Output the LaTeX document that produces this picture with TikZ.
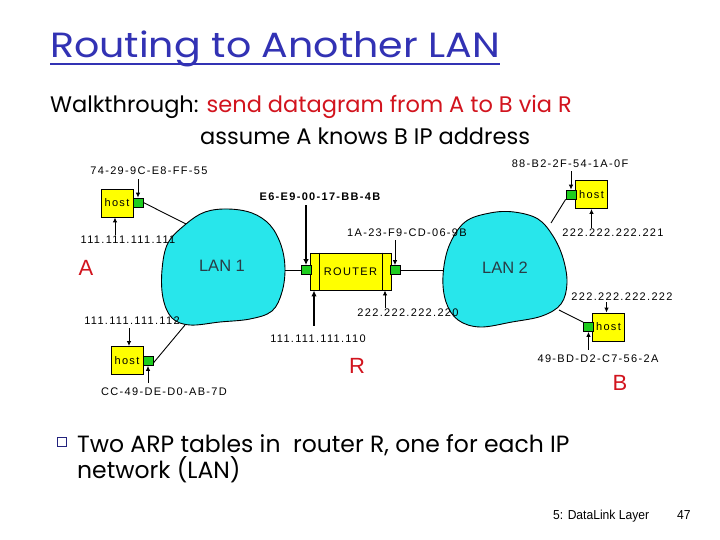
\documentclass[tikz,border=0pt]{standalone}
\usepackage{fontspec}
\usepackage{graphicx}
\usetikzlibrary{arrows.meta,calc}
\newfontfamily\slidefont{Poppins}
\newfontfamily\lblfont[LetterSpace=12]{Liberation Sans}
\newfontfamily\arialfont{Liberation Sans}
\definecolor{titleblue}{RGB}{50,50,180}
\definecolor{slidered}{RGB}{210,20,30}
\definecolor{lancyan}{RGB}{40,230,235}
\definecolor{lantext}{RGB}{40,60,70}
\definecolor{hostyellow}{RGB}{255,255,0}
\definecolor{portgreen}{RGB}{30,205,30}
\begin{document}
\begin{tikzpicture}[x=1pt,y=-1pt,
  lbl/.style={font=\lblfont\fontsize{11}{13}\selectfont, inner sep=1pt},
  hostbox/.style={draw=black, line width=0.9pt, fill=hostyellow, minimum width=32pt, minimum height=28pt, inner sep=0pt, font=\lblfont\fontsize{11}{13}\selectfont},
  port/.style={draw=black, line width=0.7pt, fill=portgreen, minimum width=10pt, minimum height=9pt, inner sep=0pt},
  blob/.style={draw=black, line width=0.9pt, fill=lancyan},
  lantxt/.style={font=\arialfont\fontsize{16.5}{18}\selectfont, text=lantext},
  thin/.style={draw=black, line width=0.9pt},
  arr/.style={draw=black, line width=0.9pt, -{Latex[length=5pt,width=4.5pt]}},
  thickarr/.style={draw=black, line width=1.9pt, -{Latex[length=6pt,width=5.5pt]}},
  redletter/.style={font=\arialfont\fontsize{22}{24}\selectfont, text=slidered},
  slide/.style={font=\slidefont\fontsize{22.5}{28}\selectfont, inner sep=0pt},
  bullettext/.style={font=\slidefont\fontsize{23.5}{28}\selectfont, inner sep=0pt}
]
\useasboundingbox (0,0) rectangle (720,540);
\fill[white] (0,0) rectangle (720,540);

% Title
\node[anchor=base west, inner sep=0pt, text=titleblue, font=\slidefont\fontsize{35}{40}\selectfont] (title) at (50,58) {\scalebox{1.13}[1]{Routing to Another LAN}};
\draw[titleblue, line width=2pt] ($(title.base west)+(0,6)$) coordinate (ulA) -- ($(title.base east)+(0,6)$) coordinate (ulB);

% Subtitle
\node[slide, anchor=base west] (walk) at (50,113) {Walkthrough: \textcolor{slidered}{send datagram from A to B via R}};
\node[slide, anchor=base west] (assume) at (200,145) {assume A knows B IP address};

% LAN blobs
\path[blob] plot[smooth cycle, tension=0.6] coordinates {
 (186,224) (205,212) (228,209) (252,213) (270,225) (281,245) (285,268)
 (282,292) (272,311) (250,319) (220,322) (190,325) (172,318) (163,298)
 (162,270) (168,243)};
\path[blob] plot[smooth cycle, tension=0.6] coordinates {
 (465,222) (490,213) (514,212) (538,219) (553,236) (563,258) (567,283)
 (561,304) (542,316) (512,322) (480,327) (458,320) (446,302) (443,276)
 (449,246)};
\node[lantxt] (lan1) at (222,266) {LAN 1};
\node[lantxt] (lan2) at (505,268) {LAN 2};
\coordinate (l1a) at (186,224);
\coordinate (l1b) at (185,325);
\coordinate (l1r) at (285,270);
\coordinate (l2l) at (444,270);
\coordinate (l2t) at (551,223);
\coordinate (l2b) at (559,310);

% Router
\node[draw=black, line width=0.9pt, fill=hostyellow, minimum width=81pt, minimum height=37pt, inner sep=0pt, font=\lblfont\fontsize{11}{13}\selectfont] (rt) at (350.5,271.5) {ROUTER};
\draw[thin] ($(rt.north west)+(10,0)$) -- ($(rt.south west)+(10,0)$);
\draw[thin] ($(rt.north east)+(-9,0)$) -- ($(rt.south east)+(-9,0)$);
\node[port] (rpl) at (306,270) {};
\node[port] (rpr) at (395,270) {};
\draw[thin] (l1r) -- (rpl.west);
\draw[thin] (rpr.east) -- (l2l);

\node[lbl, font=\lblfont\bfseries\fontsize{11}{13}\selectfont] (macRL) at (320,197) {E6-E9-00-17-BB-4B};
\node[lbl] (macRR) at (407,233) {1A-23-F9-CD-06-9B};
\node[lbl] (ipRL) at (318,339) {111.111.111.110};
\node[lbl] (ipRR) at (408,313) {222.222.222.220};
\draw[thickarr] (rpl.north |- macRL.south) ++(0,3) -- (rpl.north);
\draw[arr] (rpr.north |- macRR.south) ++(0,2) -- (rpr.north);
\draw[thickarr] ([xshift=-36.5pt]rt.south |- ipRL.north) ++(0,-8) -- ([xshift=-36.5pt]rt.south);
\draw[arr] ([xshift=34.5pt]rt.south |- ipRR.north) -- ([xshift=34.5pt]rt.south);
\node[redletter] (R) at (357,366) {R};

% Host A
\node[hostbox] (hA) at (117,203) {host};
\node[port] (pA) at (138,202.5) {};
\node[lbl] (macA) at (149,171) {74-29-9C-E8-FF-55};
\node[lbl] (ipA) at (128,240) {111.111.111.111};
\draw[arr] (pA.north |- macA.south) ++(0,3) -- (pA.north);
\draw[arr] ([xshift=-2pt]hA.south |- ipA.north) -- ([xshift=-2pt]hA.south);
\draw[thin] (pA.east) -- (l1a);
\node[redletter] (A) at (86,268) {A};

% Host bottom-left
\node[hostbox] (hC) at (127,360.5) {host};
\node[port] (pC) at (148,361) {};
\node[lbl] (ipC) at (132,321) {111.111.111.112};
\node[lbl] (macC) at (164,392) {CC-49-DE-D0-AB-7D};
\draw[arr] ([xshift=2pt]hC.north |- ipC.south) ++(0,2) -- ([xshift=2pt]hC.north);
\draw[arr] (pC.south |- macC.north) ++(0,-4) -- (pC.south);
\draw[thin] ([yshift=-2pt]pC.east) -- (l1b);

% Host top-right
\node[hostbox] (hT) at (591.5,194.5) {host};
\node[port] (pT) at (571,194.5) {};
\node[lbl] (macT) at (570,164) {88-B2-2F-54-1A-0F};
\node[lbl] (ipT) at (613,233) {222.222.222.221};
\draw[arr] (pT.north |- macT.south) ++(0,2) -- (pT.north);
\draw[arr] (hT.south |- ipT.north) -- (hT.south);
\draw[thin] (pT.south west) -- (l2t);

% Host bottom-right
\node[hostbox] (hB) at (608.5,327) {host};
\node[port] (pB) at (588.5,327) {};
\node[lbl] (ipB) at (622,297) {222.222.222.222};
\node[lbl] (macB) at (598,359) {49-BD-D2-C7-56-2A};
\draw[arr] ([xshift=-2pt]hB.north |- ipB.south) -- ([xshift=-2pt]hB.north);
\draw[arr] (pB.south |- macB.north) ++(0,-4) -- (pB.south);
\draw[thin] (pB.north west) -- (l2b);
\node[redletter] (B) at (620,383) {B};

% Bullet
\node[draw=titleblue!70!black, line width=1.2pt, minimum width=9pt, minimum height=9pt, inner sep=0pt] (bul) at (62,442) {};
\node[bullettext, anchor=base west] (b1) at (77,452) {Two ARP tables in\ \ router R, one for each IP};
\node[bullettext, anchor=base west] (b2) at (77,478) {network (LAN)};

% Footer
\node[anchor=base west, inner sep=0pt, font=\arialfont\fontsize{13}{15}\selectfont] (foot) at (553,519) {\scalebox{0.93}[1]{5: DataLink Layer}};
\node[anchor=base west, inner sep=0pt, font=\arialfont\fontsize{13}{15}\selectfont] (pg) at (677,519) {\scalebox{0.93}[1]{47}};
\end{tikzpicture}
\end{document}
